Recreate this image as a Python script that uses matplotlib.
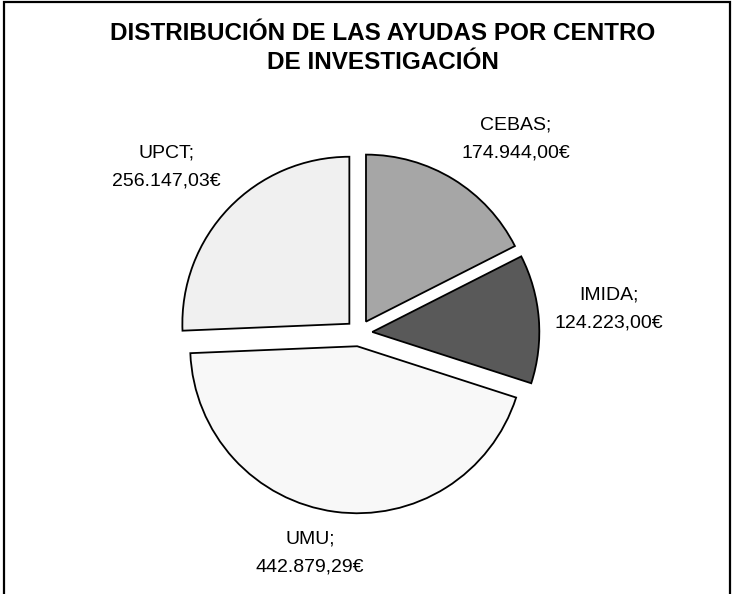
import matplotlib.pyplot as plt
from matplotlib.patches import Rectangle

plt.rcParams['font.family'] = ['Liberation Sans', 'DejaVu Sans']

centros = ["CEBAS", "IMIDA", "UMU", "UPCT"]
ayudas = [174944.00, 124223.00, 442879.29, 256147.03]
colores = ["#a6a6a6", "#595959", "#f8f8f8", "#f0f0f0"]
titulo = "DISTRIBUCIÓN DE LAS AYUDAS POR CENTRO\nDE INVESTIGACIÓN"

# label centres in pixels (layout only)
pos_etiquetas = [(516, 139), (609, 309), (310, 553), (166, 167)]


def euros(v):
    s = f"{v:,.2f}"
    return s.replace(",", "X").replace(".", ",").replace("X", ".") + "€"


W, H = 733, 594
cx, cy, R = 359, H - 333, 167

fig = plt.figure(figsize=(W / 100, H / 100), dpi=100)
ax = fig.add_axes([0, 0, 1, 1])
ax.pie(ayudas, colors=colores, startangle=90, counterclock=False,
       explode=[0.08] * len(ayudas),
       wedgeprops=dict(edgecolor="black", linewidth=1.3))
ax.set_xlim(-cx / R, (W - cx) / R)
ax.set_ylim(-cy / R, (H - cy) / R)
ax.axis("off")

for (px, py), nombre, v in zip(pos_etiquetas, centros, ayudas):
    fig.text(px / W, 1 - py / H, f"{nombre};\n{euros(v)}", ha="center",
             va="center", fontsize=14, linespacing=1.9)

fig.text(383 / W, 1 - 48 / H, titulo, ha="center", va="center",
         fontsize=17.5, fontweight="bold", linespacing=1.3)

fig.patches.append(Rectangle((4 / W, -0.1), (730 - 4) / W, 1.1 - 2 / H,
                             transform=fig.transFigure, fill=False,
                             edgecolor="black", linewidth=1.6))

fig.savefig("out.png", dpi=100)
